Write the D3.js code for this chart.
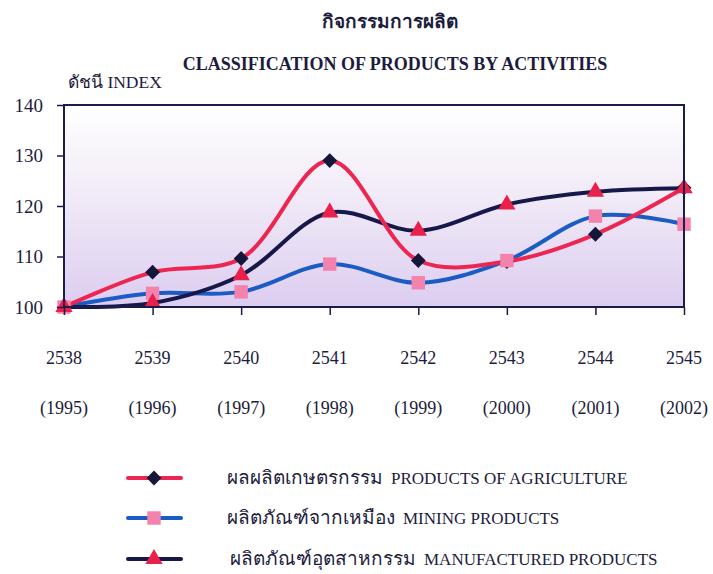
<!DOCTYPE html>
<html><head><meta charset="utf-8">
<script src="https://cdn.jsdelivr.net/npm/d3@7"></script>
<style>
body{margin:0;background:#fff;}
svg{display:block;font-family:"Liberation Serif","Times New Roman",serif;}
</style></head>
<body>
<svg id="c" width="713" height="574"></svg>
<script>
const yearsBE = ["2538","2539","2540","2541","2542","2543","2544","2545"];
const yearsCE = ["(1995)","(1996)","(1997)","(1998)","(1999)","(2000)","(2001)","(2002)"];
const agriculture = [100, 106.9, 109.6, 129.0, 109.2, 109.0, 114.4, 123.6];
const mining = [100, 102.7, 103.0, 108.5, 104.8, 109.2, 118.0, 116.4];
const manufactured = [100, 100.8, 106.3, 118.7, 115.1, 120.3, 122.8, 123.5];
const yTicks = [100, 110, 120, 130, 140];
const seriesNames = [
  {th:"ผลผลิตเกษตรกรรม", en:"PRODUCTS OF AGRICULTURE"},
  {th:"ผลิตภัณฑ์จากเหมือง", en:"MINING PRODUCTS"},
  {th:"ผลิตภัณฑ์อุตสาหกรรม", en:"MANUFACTURED PRODUCTS"}
];

const svg = d3.select("#c");
const L=64, R=684, T=105, B=307;
const x = d3.scalePoint().domain(yearsBE).range([L,R]);
const y = d3.scaleLinear().domain([100,140]).range([B,T]);
const ink = "#1c1c3c";

const defs = svg.append("defs");
const g = defs.append("linearGradient").attr("id","bg").attr("x1",0).attr("y1",0).attr("x2",0).attr("y2",1);
g.append("stop").attr("offset","0%").attr("stop-color","#ffffff");
g.append("stop").attr("offset","45%").attr("stop-color","#f1eaf7");
g.append("stop").attr("offset","100%").attr("stop-color","#dccdf0");

svg.append("rect").attr("x",L).attr("y",T).attr("width",R-L).attr("height",B-T).attr("fill","url(#bg)");

// titles
svg.append("text").attr("x",390).attr("y",28).attr("text-anchor","middle")
  .attr("font-size",19).attr("font-weight","bold").attr("fill",ink).text("กิจกรรมการผลิต");
svg.append("text").attr("x",395).attr("y",70).attr("text-anchor","middle")
  .attr("font-size",18).attr("font-weight","bold").attr("fill",ink).text("CLASSIFICATION OF PRODUCTS BY ACTIVITIES");
svg.append("text").attr("x",68).attr("y",88).attr("font-size",17.5).attr("fill",ink).text("ดัชนี INDEX");

// series
const cfg = [
  {data:agriculture, line:"#ec2650", marker:"diamond", mfill:"#14163a"},
  {data:mining, line:"#1b5cc4", marker:"square", mfill:"#f382ad"},
  {data:manufactured, line:"#16184a", marker:"triangle", mfill:"#e8204a"}
];
const lineGen = d3.line().x((d,i)=>x(yearsBE[i])).y(d=>y(d)).curve(d3.curveCatmullRom.alpha(0.5));
[1,2,0].forEach(k=>{
  svg.append("path").attr("d",lineGen(cfg[k].data)).attr("fill","none")
    .attr("stroke",cfg[k].line).attr("stroke-width",4).attr("stroke-linecap","round");
});
function marker(sel, k, px, py){
  const m = cfg[k].marker;
  let p;
  if(m==="diamond") p = d3.symbol().type(d3.symbolSquare).size(110)();
  else if(m==="square") p = d3.symbol().type(d3.symbolSquare).size(180)();
  else p = d3.symbol().type(d3.symbolTriangle).size(130)();
  sel.append("path").attr("d",p)
    .attr("transform",`translate(${px},${py})` + (m==="diamond"?" rotate(45)":""))
    .attr("fill",cfg[k].mfill);
}
[0,1,2].forEach(k=>{
  cfg[k].data.forEach((v,i)=>marker(svg,k,x(yearsBE[i]),y(v)));
});

// frame
svg.append("rect").attr("x",L).attr("y",T).attr("width",R-L).attr("height",B-T)
  .attr("fill","none").attr("stroke","#1c1c4a").attr("stroke-width",2);

// y axis
const ya = svg.append("g").attr("transform",`translate(${L},0)`)
  .call(d3.axisLeft(y).tickValues(yTicks).tickSize(7).tickPadding(14));
ya.select(".domain").remove();
ya.selectAll("line").attr("stroke","#1c1c4a").attr("stroke-width",1.5);
ya.selectAll("text").attr("font-size",19).attr("fill",ink).attr("font-family","'Liberation Serif',serif");

// x axis
const xa = svg.append("g").attr("transform",`translate(0,${B})`)
  .call(d3.axisBottom(x).tickSize(8).tickFormat(""));
xa.select(".domain").remove();
xa.selectAll("line").attr("stroke","#1c1c4a").attr("stroke-width",1.5);

svg.append("g").selectAll("text").data(yearsBE).join("text")
  .attr("x",d=>x(d)).attr("y",364).attr("text-anchor","middle").attr("font-size",18).attr("fill",ink).text(d=>d);
svg.append("g").selectAll("text").data(yearsCE).join("text")
  .attr("x",(d,i)=>x(yearsBE[i])).attr("y",414).attr("text-anchor","middle").attr("font-size",18).attr("fill",ink).text(d=>d);

// legend
const ly = [478, 518, 559];
const lt = [227, 227, 230];
seriesNames.forEach((s,k)=>{
  svg.append("line").attr("x1",128).attr("x2",181).attr("y1",ly[k]).attr("y2",ly[k])
    .attr("stroke",cfg[k].line).attr("stroke-width",4).attr("stroke-linecap","round");
  marker(svg,k,154,ly[k]);
  const t = svg.append("text").attr("x",lt[k]).attr("y",ly[k]+6).attr("fill",ink);
  t.append("tspan").attr("font-size",19).text(s.th);
  t.append("tspan").attr("font-size",17).attr("dx",8).text(s.en);
});
</script>
</body></html>
